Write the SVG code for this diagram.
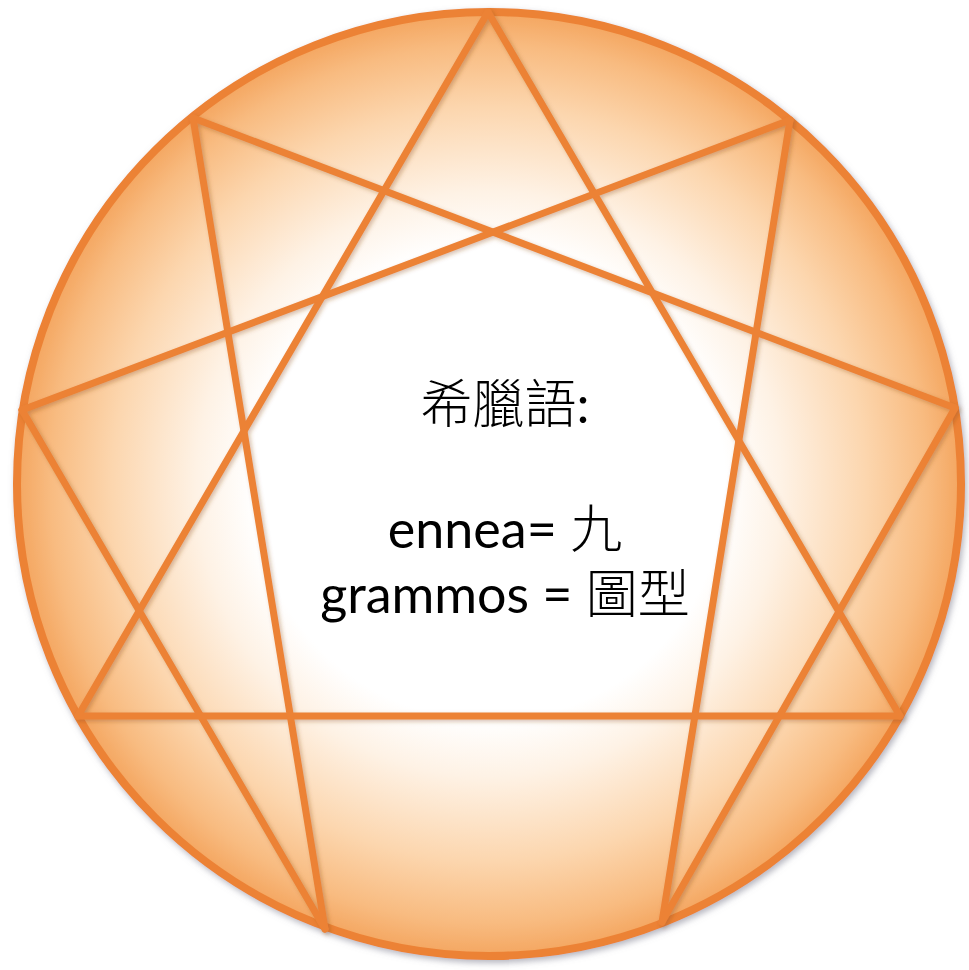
<svg xmlns="http://www.w3.org/2000/svg" width="969" height="970" viewBox="0 0 969 970">
  <defs>
    <radialGradient id="fillGrad" cx="489" cy="484" r="472" gradientUnits="userSpaceOnUse">
      <stop offset="0" stop-color="#ffffff"/>
      <stop offset="0.5" stop-color="#ffffff"/>
      <stop offset="0.62" stop-color="#fef2e5"/>
      <stop offset="0.8" stop-color="#fcd6ae"/>
      <stop offset="0.93" stop-color="#f8bb80"/>
      <stop offset="1" stop-color="#f4a660"/>
    </radialGradient>
    <filter id="outerShadow" x="-10%" y="-10%" width="120%" height="120%">
      <feDropShadow dx="2" dy="3" stdDeviation="3" flood-color="#7a7a8a" flood-opacity="0.55"/>
    </filter>
    <filter id="lineShadow" x="-5%" y="-5%" width="110%" height="110%">
      <feDropShadow dx="2" dy="2" stdDeviation="2" flood-color="#8a4a16" flood-opacity="0.35"/>
    </filter>
  </defs>
  <style>
    .ring { fill: url(#fillGrad); stroke: #ec8236; stroke-width: 8; }
    .edge { stroke: #ec8236; stroke-width: 7; stroke-linecap: round; fill: none; }
    .lbl { font-family: Lato, "Open Sans", "Noto Sans CJK TC", sans-serif; font-size: 52px; fill: #000; text-anchor: middle; }
    .cjk { font-family: "Noto Sans CJK TC", sans-serif; font-size: 52px; font-weight: 300; }
  </style>

  <g id="circle">
    <circle class="ring" cx="489" cy="484" r="472" filter="url(#outerShadow)"/>
  </g>

  <g id="connectors" filter="url(#lineShadow)">
    <line id="e9-3" class="edge" x1="488" y1="12" x2="900" y2="716"/>
    <line id="e3-6" class="edge" x1="900" y1="716" x2="78" y2="716"/>
    <line id="e6-9" class="edge" x1="78" y1="716" x2="488" y2="12"/>
    <line id="e1-4" class="edge" x1="790" y1="120" x2="662" y2="922"/>
    <line id="e4-2" class="edge" x1="662" y1="922" x2="955" y2="408"/>
    <line id="e2-8" class="edge" x1="955" y1="408" x2="193" y2="118"/>
    <line id="e8-5" class="edge" x1="193" y1="118" x2="325" y2="929"/>
    <line id="e5-7" class="edge" x1="325" y1="929" x2="22" y2="410"/>
    <line id="e7-1" class="edge" x1="22" y1="410" x2="790" y2="120"/>
  </g>

  <g id="label">
    <text class="lbl" x="505" y="423"><tspan class="cjk">希臘語</tspan>:</text>
    <text class="lbl" x="505" y="548">ennea= <tspan class="cjk">九</tspan></text>
    <text class="lbl" x="505" y="613">grammos = <tspan class="cjk">圖型</tspan></text>
  </g>
</svg>
